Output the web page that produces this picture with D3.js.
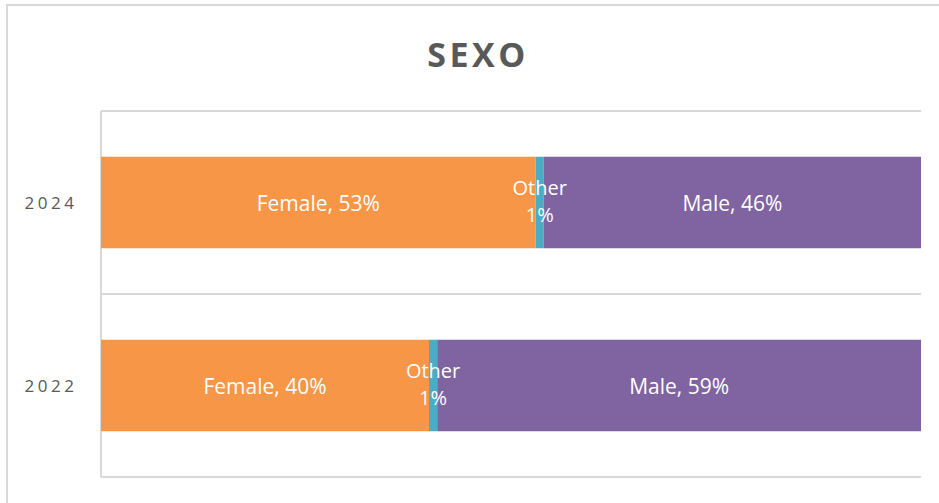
<!DOCTYPE html>
<html lang="es">
<head>
    <meta charset="UTF-8">
    <title>SEXO</title>
    <script src="https://cdn.jsdelivr.net/npm/d3@7"></script>
    <style>
        body { margin: 0; background: #fff; }
        text { font-family: "Open Sans", "Liberation Sans", sans-serif; }
    </style>
</head>
<body>
    <div id="chart"></div>

    <script>
        // data
        const years = ["2024", "2022"];
        const categories = ["Female", "Other", "Male"];
        const female = [53, 40];
        const other = [1, 1];
        const male = [46, 59];
        const colors = ["#F79646", "#4BACC6", "#8064A2"];

        const width = 939, height = 503;
        const margin = { top: 111, right: 18, bottom: 26, left: 101 };
        const innerW = width - margin.left - margin.right;
        const innerH = height - margin.top - margin.bottom;

        const svg = d3.select("#chart").append("svg")
            .attr("width", width)
            .attr("height", height);

        // outer chart border (runs past the right/bottom edge)
        svg.append("rect")
            .attr("x", 7).attr("y", 5)
            .attr("width", width + 20).attr("height", height + 20)
            .attr("fill", "none")
            .attr("stroke", "#d9d9d9")
            .attr("stroke-width", 2);

        svg.append("text")
            .attr("x", 478).attr("y", 67)
            .attr("text-anchor", "middle")
            .attr("font-size", "34px")
            .attr("font-weight", "bold")
            .attr("letter-spacing", "3.5px")
            .attr("fill", "#595959")
            .text("SEXO");

        const g = svg.append("g")
            .attr("transform", `translate(${margin.left}, ${margin.top})`);

        const x = d3.scaleLinear().domain([0, 100]).range([0, innerW]);
        const y = d3.scaleBand().domain(years).range([0, innerH]).paddingInner(0).paddingOuter(0);
        const barH = y.bandwidth() * 0.5;

        // gridlines between categories
        const gridY = [0, y.bandwidth(), innerH];
        g.selectAll(".grid")
            .data(gridY)
            .join("line")
            .attr("x1", 0).attr("x2", innerW)
            .attr("y1", d => d).attr("y2", d => d)
            .attr("stroke", "#d9d9d9")
            .attr("stroke-width", 2);

        g.append("line")
            .attr("x1", 0).attr("x2", 0)
            .attr("y1", 0).attr("y2", innerH)
            .attr("stroke", "#d9d9d9")
            .attr("stroke-width", 2);

        // stacked data
        const rows = years.map((yr, i) => ({ year: yr, Female: female[i], Other: other[i], Male: male[i] }));
        const stack = d3.stack().keys(categories)(rows);

        const layers = g.selectAll(".layer")
            .data(stack)
            .join("g")
            .attr("fill", (d, i) => colors[i]);

        layers.selectAll("rect")
            .data(d => d)
            .join("rect")
            .attr("x", d => x(d[0]))
            .attr("width", d => x(d[1]) - x(d[0]))
            .attr("y", d => y(d.data.year) + (y.bandwidth() - barH) / 2)
            .attr("height", barH);

        // data labels
        stack.forEach(layer => {
            layer.forEach(d => {
                const cx = (x(d[0]) + x(d[1])) / 2;
                const cy = y(d.data.year) + y.bandwidth() / 2;
                const val = d[1] - d[0];
                if (layer.key === "Other") {
                    g.append("text")
                        .attr("x", cx).attr("y", cy - 8)
                        .attr("text-anchor", "middle")
                        .attr("font-size", "20px")
                        .attr("fill", "#ffffff")
                        .text(layer.key);
                    g.append("text")
                        .attr("x", cx).attr("y", cy + 19)
                        .attr("text-anchor", "middle")
                        .attr("font-size", "20px")
                        .attr("fill", "#ffffff")
                        .text(val + "%");
                } else {
                    g.append("text")
                        .attr("x", cx).attr("y", cy + 8)
                        .attr("text-anchor", "middle")
                        .attr("font-size", "21px")
                        .attr("fill", "#ffffff")
                        .text(`${layer.key}, ${val}%`);
                }
            });
        });

        // year labels
        g.selectAll(".ylab")
            .data(years)
            .join("text")
            .attr("x", -50)
            .attr("y", d => y(d) + y.bandwidth() / 2 + 6)
            .attr("text-anchor", "middle")
            .attr("font-size", "17px")
            .attr("letter-spacing", "3.5px")
            .attr("fill", "#595959")
            .text(d => d);
    </script>
</body>
</html>
